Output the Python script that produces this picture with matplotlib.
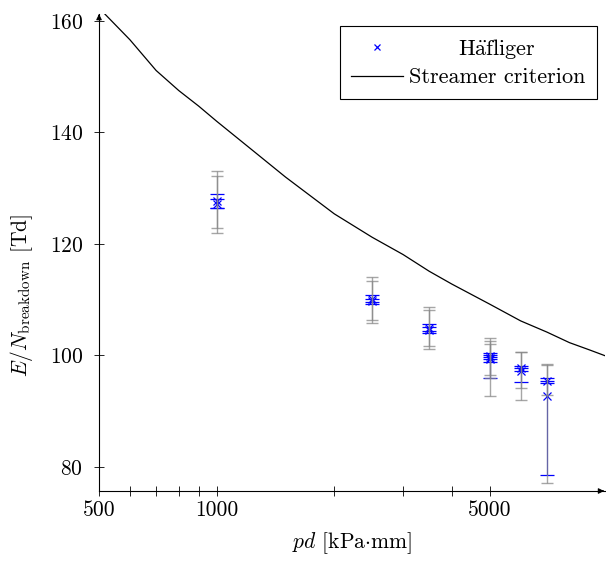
import numpy as np
from matplotlib import pyplot as plt
from matplotlib.lines import Line2D
from matplotlib.ticker import FixedLocator, NullFormatter

plt.rcParams['font.family'] = ['cmr10', 'DejaVu Serif']
plt.rcParams['mathtext.fontset'] = 'cm'
plt.rcParams['axes.formatter.use_mathtext'] = True
plt.rcParams['font.size'] = 15.5

# Häfliger measurements (several points per pd value)
pd_meas = [1000, 1000, 2500, 2500, 3500, 3500, 5000, 5000, 5000, 6000, 6000, 7000, 7000]
en_meas = [127.7, 127.2, 110.2, 109.7, 105.0, 104.6, 99.9, 99.5, 99.3, 97.7, 97.2, 95.5, 92.7]
# statistical error (blue)
stat_lo = [1.3, 0.7, 0.6, 0.5, 0.6, 0.5, 0.6, 3.6, 0.5, 0.5, 1.9, 0.4, 14.1]
stat_hi = [1.3, 0.9, 0.6, 0.5, 0.6, 0.5, 0.6, 0.6, 0.5, 0.5, 0.5, 0.4, 2.8]
# total error (gray)
tot_lo = [5.7, 4.3, 3.8, 3.9, 3.3, 3.4, 3.9, 6.8, 2.8, 3.6, 5.1, 2.5, 15.6]
tot_hi = [5.4, 5.0, 3.8, 3.6, 3.7, 3.6, 3.3, 3.1, 2.8, 3.0, 3.4, 3.0, 5.6]

# streamer criterion curve
pd_curve = [500, 600, 700, 800, 900, 1000, 1250, 1500, 2000, 2500, 3000,
            3500, 4000, 5000, 6000, 7000, 8000, 9000, 10000]
en_curve = [162.3, 156.6, 151.1, 147.5, 144.7, 142.0, 136.5, 132.0, 125.4,
            121.2, 118.1, 115.1, 112.8, 109.2, 106.2, 104.2, 102.3, 101.0, 99.8]

fig = plt.figure(figsize=(6.06, 5.66), dpi=100)
ax = fig.add_axes([0.1634, 0.1325, 0.8346, 0.8425])

ax.errorbar(pd_meas, en_meas, yerr=[stat_lo, stat_hi], fmt='x', color='blue',
            ms=6, mew=0.9, elinewidth=0.8, capsize=5, capthick=0.8, zorder=3)
ax.errorbar(pd_meas, en_meas, yerr=[tot_lo, tot_hi], fmt='none', ecolor='#888888',
            alpha=0.75, elinewidth=1.0, capsize=4, capthick=1.0, zorder=4)
ax.plot(pd_curve, en_curve, color='black', lw=0.9)

ax.set_xscale('log')
ax.set_xlim(500, 9850)
ax.set_ylim(75.7, 161.2)
ax.xaxis.set_major_locator(FixedLocator([500, 1000, 5000]))
ax.xaxis.set_minor_locator(FixedLocator([600, 700, 800, 900, 2000, 3000, 4000]))
ax.xaxis.set_minor_formatter(NullFormatter())
ax.set_xticklabels(['500', '1000', '5000'])
ax.set_yticks([80, 100, 120, 140, 160])
ax.tick_params(which='both', direction='inout', length=7, width=0.6)
ax.tick_params(axis='x', pad=3)
ax.tick_params(axis='y', pad=8)

for s in ['top', 'right']:
    ax.spines[s].set_visible(False)
for s in ['left', 'bottom']:
    ax.spines[s].set_linewidth(0.8)
ax.annotate('', xy=(1.004, 0), xytext=(0.99, 0), xycoords='axes fraction',
            arrowprops=dict(arrowstyle='-|>', lw=0.8, color='black', mutation_scale=8))
ax.annotate('', xy=(0, 1.006), xytext=(0, 0.99), xycoords='axes fraction',
            arrowprops=dict(arrowstyle='-|>', lw=0.8, color='black', mutation_scale=8))

ax.set_xlabel(r'$pd$ [kPa$\cdot$mm]', labelpad=8)
ax.set_ylabel(r'$E/N_{\mathrm{breakdown}}$ [Td]')
ax.yaxis.set_label_coords(-0.126, 0.41)

handles = [Line2D([], [], ls='none', marker='x', color='blue', ms=5, mew=0.9),
           Line2D([], [], color='black', lw=0.9)]
labels = [r'H$\ddot{\mathrm{a}}$fliger', 'Streamer criterion']
leg = ax.legend(handles, labels, loc='upper right', bbox_to_anchor=(0.984, 0.975),
                fancybox=False, edgecolor='black', framealpha=1, handlelength=2.3,
                handletextpad=0.3, borderpad=0.5, labelspacing=0.3, borderaxespad=0,
                fontsize=16)
leg.get_frame().set_linewidth(0.8)
fig.canvas.draw()
renderer = fig.canvas.get_renderer()
widths = [t.get_window_extent(renderer).width for t in leg.get_texts()]
for t, w in zip(leg.get_texts(), widths):
    t.set_position(((max(widths) - w) / 2, 0))

fig.savefig('out.png', dpi=100)
